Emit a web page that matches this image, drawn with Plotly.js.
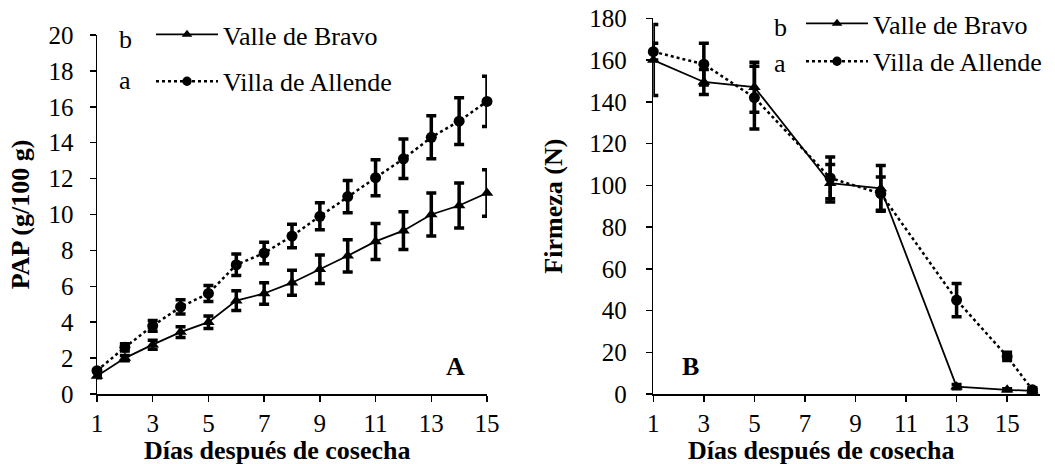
<!DOCTYPE html>
<html><head><meta charset="utf-8">
<script src="https://cdn.plot.ly/plotly-3.0.1.min.js"></script>
<style>html,body{margin:0;padding:0;background:#fff}#chart{width:1055px;height:464px}</style>
</head><body><div id="chart"></div>
<script>
// Panel A: PAP (g/100 g)
const daysA = [1,2,3,4,5,6,7,8,9,10,11,12,13,14,15];
const papValle = [1.0,2.0,2.75,3.45,4.0,5.2,5.6,6.2,6.95,7.7,8.5,9.1,10.0,10.5,11.2];
const papValleErr = [0.1,0.15,0.25,0.3,0.35,0.55,0.6,0.7,0.8,0.9,1.0,1.05,1.2,1.25,1.3];
const papVilla = [1.3,2.6,3.8,4.85,5.6,7.2,7.85,8.8,9.9,11.0,12.05,13.1,14.3,15.2,16.3];
const papVillaErr = [0.1,0.2,0.3,0.4,0.45,0.6,0.6,0.65,0.75,0.9,1.0,1.1,1.2,1.3,1.4];
// Panel B: Firmeza (N)
const daysB = [1,3,5,8,10,13,15,16];
const firValle = [160,149.5,147,101,98.5,3.5,2,1.5];
const firValleErr = [17,6,12,9,11,1,0.5,0.5];
const firVilla = [164,158,142,103.5,96,45,18,2];
const firVillaErr = [4,10,15,10,8,8,2,1];
const seriesNames = ["Valle de Bravo","Villa de Allende"];
const groupLetters = ["b","a"];
const xTitle = "Días después de cosecha";

const FONT = "Liberation Serif";
const errStyle = (arr)=>({type:'data',array:arr,visible:true,color:'#000',thickness:3.5,width:5});
const valleStyle = {mode:'lines+markers',line:{color:'#000',width:1.8},marker:{symbol:'triangle-up',size:11,color:'#000'},cliponaxis:false};
const villaStyle = {mode:'lines+markers',line:{color:'#000',width:2.5,dash:'dot'},marker:{symbol:'circle',size:11,color:'#000'},cliponaxis:false};

const traces = [
  Object.assign({x:daysA,y:papValle,error_y:errStyle(papValleErr),name:seriesNames[0],xaxis:'x',yaxis:'y',legend:'legend',legendgroup:'a1'},valleStyle),
  Object.assign({x:daysA,y:papVilla,error_y:errStyle(papVillaErr),name:seriesNames[1],xaxis:'x',yaxis:'y',legend:'legend',legendgroup:'a2'},villaStyle),
  Object.assign({x:daysB,y:firValle,error_y:errStyle(firValleErr),name:seriesNames[0],xaxis:'x2',yaxis:'y2',legend:'legend2',legendgroup:'b1'},valleStyle),
  Object.assign({x:daysB,y:firVilla,error_y:errStyle(firVillaErr),name:seriesNames[1],xaxis:'x2',yaxis:'y2',legend:'legend2',legendgroup:'b2'},villaStyle)
];

const W=1055,H=464;
const px=(v)=>v/W, py=(v)=>1-v/H;
const axBase = {showgrid:false,zeroline:false,showline:true,linecolor:'#000',linewidth:1.5,ticks:'outside',ticklen:6,tickwidth:1.5,tickcolor:'#000',
  tickfont:{family:FONT,size:25,color:'#000'},fixedrange:true,automargin:false};
const titleFont = {family:FONT,size:26,color:'#000'};
const legFont = {family:FONT,size:26,color:'#000'};
const ann = (x,y,text,font)=>({xref:'paper',yref:'paper',x:px(x),y:py(y),xanchor:'center',yanchor:'middle',text:text,showarrow:false,font:font});

const layout = {
  width:W,height:H,margin:{l:0,r:0,t:0,b:0},paper_bgcolor:'#fff',plot_bgcolor:'rgba(0,0,0,0)',
  font:{family:FONT,color:'#000'},showlegend:true,
  xaxis:Object.assign({},axBase,{domain:[px(97),px(487)],range:[1,15],tick0:1,dtick:2,anchor:'y'}),
  yaxis:Object.assign({},axBase,{domain:[py(394),py(35)],range:[0,20],dtick:2,anchor:'x',ticklabelstandoff:11,
    title:{text:'<b>PAP (g/100 g)</b>',font:titleFont,standoff:11}}),
  xaxis2:Object.assign({},axBase,{domain:[px(653.3),px(1040)],range:[1,16.3],tick0:1,dtick:2,anchor:'y2'}),
  yaxis2:Object.assign({},axBase,{domain:[py(394),py(18.3)],range:[0,180],dtick:20,anchor:'x2',ticklabelstandoff:14,
    title:{text:'<b>Firmeza (N)</b>',font:titleFont,standoff:19}}),
  legend:{x:px(183),y:py(11),xanchor:'left',yanchor:'top',bgcolor:'rgba(0,0,0,0)',font:legFont,
    traceorder:'grouped',tracegroupgap:10},
  legend2:{x:px(833),y:py(0),xanchor:'left',yanchor:'top',bgcolor:'rgba(0,0,0,0)',font:legFont,
    traceorder:'grouped',tracegroupgap:1},
  annotations:[
    ann(277,450,'<b>'+xTitle+'</b>',titleFont),
    ann(821,450,'<b>'+xTitle+'</b>',titleFont),
    ann(125,39,groupLetters[0],legFont),
    ann(125,81,groupLetters[1],legFont),
    ann(780,27,groupLetters[0],legFont),
    ann(780,63,groupLetters[1],legFont),
    ann(455,366,'<b>A</b>',titleFont),
    ann(690,366,'<b>B</b>',titleFont)
  ]
};
Plotly.newPlot('chart',traces,layout,{displayModeBar:false,staticPlot:true}).then(function(gd){
  // legend samples: longer line with a smaller marker centred on it, as in the reference
  gd.querySelectorAll('[clip-path]').forEach(e=>{ if(e.closest('.legend, .legend2, [class^="legend"]')) e.removeAttribute('clip-path'); });
  gd.querySelectorAll('.legendlines path').forEach(p=>p.setAttribute('d','M-27,0h62'));
  gd.querySelectorAll('.legendpoints path').forEach(p=>p.setAttribute('transform','translate(4,0) scale(0.85)'));
});
</script></body></html>
